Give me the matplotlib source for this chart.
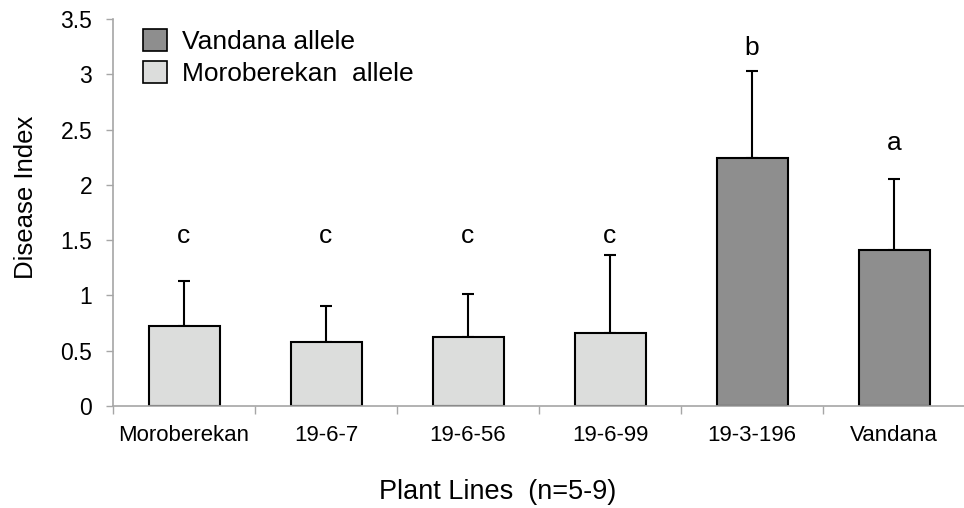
import numpy as np
import matplotlib
matplotlib.use("Agg")
import matplotlib.pyplot as plt
from matplotlib.patches import Patch

plt.rcParams['font.family'] = ['Liberation Sans', 'DejaVu Sans']

# --- data
lines = ['Moroberekan', '19-6-7', '19-6-56', '19-6-99', '19-3-196', 'Vandana']
means = [0.72, 0.58, 0.62, 0.66, 2.24, 1.41]
sd = [0.41, 0.32, 0.39, 0.71, 0.79, 0.64]
allele = ['M', 'M', 'M', 'M', 'V', 'V']
letters = ['c', 'c', 'c', 'c', 'b', 'a']
letter_y = [1.54, 1.54, 1.54, 1.54, 3.24, 2.38]

dark = '#8e8e8e'
light = '#dcdddc'
grey_ax = '#a6a6a6'

fig = plt.figure(figsize=(9.64, 5.08), dpi=100)
ax = fig.add_axes([113/964, 102/508, 852/964, 387/508])

x = np.arange(len(lines))
cols = [dark if a == 'V' else light for a in allele]
ax.bar(x, means, width=0.5, color=cols, edgecolor='black', linewidth=1.5, zorder=2)
ax.errorbar(x, means, yerr=[np.zeros(len(sd)), sd], fmt='none', ecolor='black',
            elinewidth=1.5, capsize=4.5, capthick=1.5, zorder=1)

for xi, t, ty in zip(x, letters, letter_y):
    ax.text(xi, ty, t, ha='center', va='center', fontsize=19)

ax.set_xlim(-0.5, len(lines) - 0.5)
ax.set_ylim(0, 3.5)
ax.set_yticks(np.arange(0, 3.51, 0.5))
ax.set_yticklabels(['0', '0.5', '1', '1.5', '2', '2.5', '3', '3.5'], fontsize=16.5)
ax.set_xticks(x)
ax.set_xticklabels(lines, fontsize=16)
ax.tick_params(axis='x', length=0, pad=14)
ax.set_xticks(np.arange(-0.5, len(lines) + 0.5, 1), minor=True)
ax.tick_params(axis='x', which='minor', length=6, color=grey_ax, width=1)
ax.tick_params(axis='y', length=5, color=grey_ax, width=1, pad=10)

for s in ['top', 'right']:
    ax.spines[s].set_visible(False)
for s in ['left', 'bottom']:
    ax.spines[s].set_color(grey_ax)
    ax.spines[s].set_linewidth(1.2)

ax.set_ylabel('Disease Index', fontsize=18.5)
ax.yaxis.set_label_coords(-0.088, 0.54)
ax.set_xlabel('Plant Lines  (n=5-9)', fontsize=19.5)
ax.xaxis.set_label_coords(0.452, -0.189)

handles = [Patch(facecolor=dark, edgecolor='black', linewidth=1.2, label='Vandana allele'),
           Patch(facecolor=light, edgecolor='black', linewidth=1.2, label='Moroberekan  allele')]
ax.legend(handles=handles, loc='upper left', bbox_to_anchor=(0.035, 0.975), frameon=False,
          fontsize=19, handlelength=0.92, handleheight=0.95, handletextpad=0.55, labelspacing=0.25,
          borderaxespad=0, borderpad=0)

fig.savefig('out.png', dpi=100)
